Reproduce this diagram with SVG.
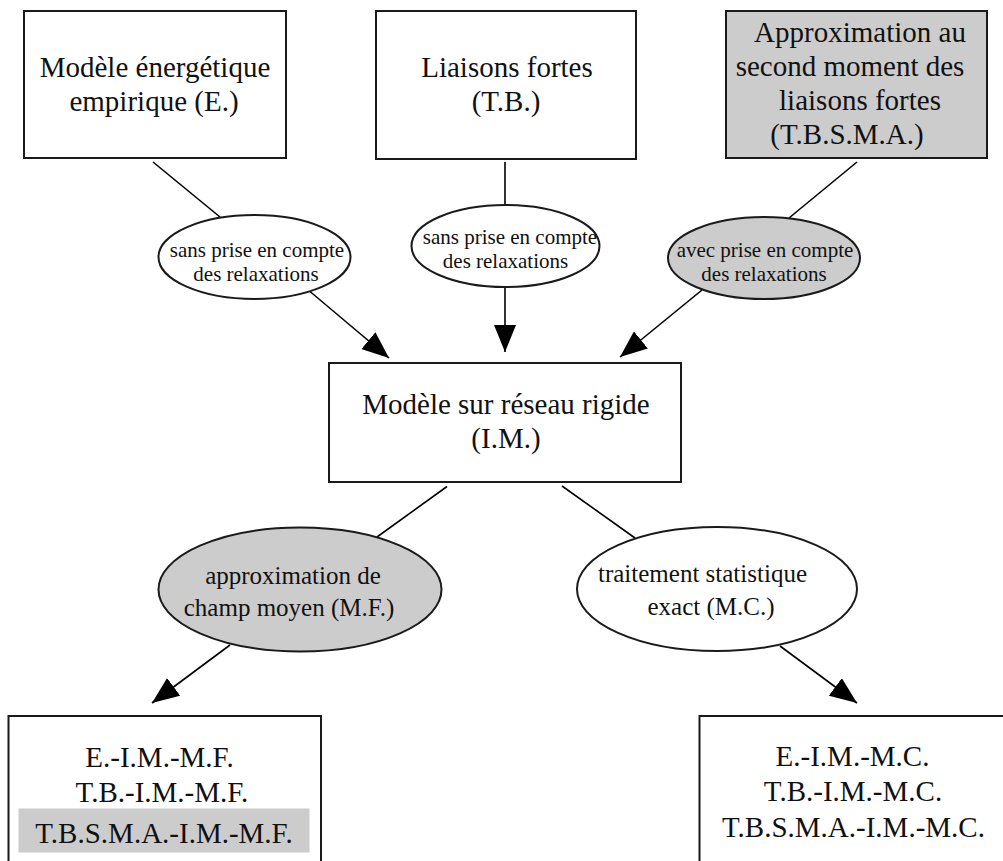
<svg xmlns="http://www.w3.org/2000/svg" width="1003" height="861" viewBox="0 0 1003 861">
  <style>
    .box { fill: #ffffff; stroke: #1a1a1a; stroke-width: 2; }
    .grey { fill: #cccccc; }
    .ell { stroke: #1a1a1a; stroke-width: 2; }
    .t { font-family: "Liberation Serif", "Times New Roman", serif; fill: #111111; text-anchor: middle; }
    .big { font-size: 29px; }
    .mid { font-size: 25px; }
    .sm { font-size: 21px; }
    .edge { stroke: #000000; stroke-width: 1.6; fill: none; }
  </style>
  <defs>
    <marker id="arrow" markerUnits="userSpaceOnUse" markerWidth="28" markerHeight="22" refX="27" refY="11" orient="auto">
      <path d="M0,0 L27,11 L0,22 z" fill="#000000"/>
    </marker>
  </defs>
  <rect width="1003" height="861" fill="#ffffff"/>

  <g id="connectors">
    <line class="edge" x1="153" y1="162" x2="220" y2="217"/>
    <line class="edge" x1="310" y1="291.5" x2="389" y2="358" marker-end="url(#arrow)"/>
    <line class="edge" x1="505" y1="162" x2="505" y2="205"/>
    <line class="edge" x1="505" y1="286.5" x2="505" y2="352" marker-end="url(#arrow)"/>
    <line class="edge" x1="857" y1="162" x2="789" y2="218"/>
    <line class="edge" x1="702" y1="290" x2="620" y2="357" marker-end="url(#arrow)"/>
    <line class="edge" x1="447" y1="486.5" x2="377" y2="537"/>
    <line class="edge" x1="230" y1="645" x2="152" y2="703" marker-end="url(#arrow)"/>
    <line class="edge" x1="562" y1="486" x2="635" y2="538"/>
    <line class="edge" x1="780" y1="646" x2="857" y2="703" marker-end="url(#arrow)"/>
  </g>

  <g id="node-E">
    <rect class="box" x="24" y="11" width="262" height="147"/>
    <text class="t big" x="155" y="77">Modèle énergétique</text>
    <text class="t big" x="154" y="111">empirique (E.)</text>
  </g>

  <g id="node-TB">
    <rect class="box" x="376" y="11" width="260" height="148"/>
    <text class="t big" x="507" y="77">Liaisons fortes</text>
    <text class="t big" x="506" y="111">(T.B.)</text>
  </g>

  <g id="node-TBSMA">
    <rect class="box grey" x="726" y="11" width="261" height="147"/>
    <text class="t big" x="860" y="42">Approximation au</text>
    <text class="t big" x="850" y="76">second moment des</text>
    <text class="t big" x="860" y="110">liaisons fortes</text>
    <text class="t big" x="847" y="144">(T.B.S.M.A.)</text>
  </g>

  <g id="label-sans-1">
    <ellipse class="ell" cx="254.5" cy="257" rx="96" ry="42" fill="#ffffff"/>
    <text class="t sm" x="257" y="256.5">sans prise en compte</text>
    <text class="t sm" x="256" y="280.5">des relaxations</text>
  </g>

  <g id="label-sans-2">
    <ellipse class="ell" cx="505.5" cy="246" rx="94" ry="41" fill="#ffffff"/>
    <text class="t sm" x="510" y="243.5">sans prise en compte</text>
    <text class="t sm" x="505.5" y="267.5">des relaxations</text>
  </g>

  <g id="label-avec">
    <ellipse class="ell" cx="764" cy="258" rx="96" ry="41" fill="#cccccc"/>
    <text class="t sm" x="765" y="256.5">avec prise en compte</text>
    <text class="t sm" x="764" y="280.5">des relaxations</text>
  </g>

  <g id="node-IM">
    <rect class="box" x="329" y="363" width="352" height="119"/>
    <text class="t big" x="506" y="414">Modèle sur réseau rigide</text>
    <text class="t big" x="506" y="448">(I.M.)</text>
  </g>

  <g id="label-MF">
    <ellipse class="ell" cx="300" cy="589.5" rx="141.5" ry="62" fill="#cccccc"/>
    <text class="t mid" x="293" y="583.5">approximation de</text>
    <text class="t mid" x="289" y="616">champ moyen (M.F.)</text>
  </g>

  <g id="label-MC">
    <ellipse class="ell" cx="717" cy="589" rx="140" ry="62" fill="#ffffff"/>
    <text class="t mid" x="702.5" y="582">traitement statistique</text>
    <text class="t mid" x="711" y="615">exact (M.C.)</text>
  </g>

  <g id="node-results-MF">
    <rect class="box" x="8.5" y="716" width="312.5" height="160"/>
    <rect class="grey" x="18.5" y="808.5" width="291" height="44"/>
    <text class="t big" x="159.5" y="767">E.-I.M.-M.F.</text>
    <text class="t big" x="162" y="802">T.B.-I.M.-M.F.</text>
    <text class="t big" x="164" y="843">T.B.S.M.A.-I.M.-M.F.</text>
  </g>

  <g id="node-results-MC">
    <rect class="box" x="699.5" y="716" width="313" height="160"/>
    <text class="t big" x="852.5" y="766">E.-I.M.-M.C.</text>
    <text class="t big" x="853" y="801">T.B.-I.M.-M.C.</text>
    <text class="t big" x="853.5" y="837">T.B.S.M.A.-I.M.-M.C.</text>
  </g>
</svg>
